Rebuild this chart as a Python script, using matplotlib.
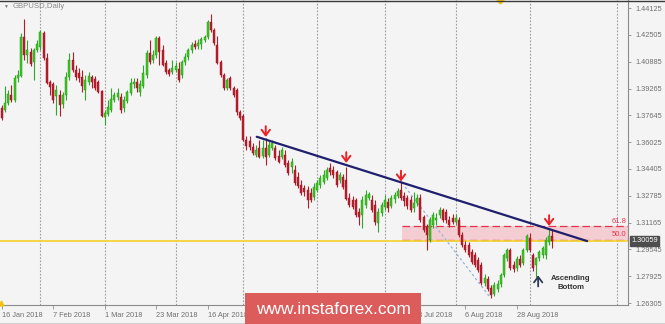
import numpy as np
import matplotlib
matplotlib.use("Agg")
import matplotlib.pyplot as plt
import matplotlib.transforms as mtransforms
from matplotlib.patches import Rectangle
from matplotlib.lines import Line2D

plt.rcParams['font.family'] = ['Liberation Sans', 'DejaVu Sans']

# GBPUSD daily candles, 16 Jan 2018 .. 12 Sep 2018
opens = [1.3809, 1.3797, 1.3839, 1.3887, 1.3857, 1.3990, 1.4002, 1.4238, 1.4129, 1.4147,
         1.4087, 1.4159, 1.4177, 1.4262, 1.4111, 1.3966, 1.3954, 1.3881, 1.3887, 1.3833,
         1.3887, 1.3996, 1.4099, 1.4038, 1.4020, 1.3996, 1.3917, 1.3966, 1.3996, 1.3984,
         1.3966, 1.3911, 1.3754, 1.3772, 1.3797, 1.3857, 1.3875, 1.3875, 1.3809, 1.3851,
         1.3899, 1.3954, 1.3966, 1.3905, 1.3942, 1.4008, 1.4141, 1.4099, 1.4129, 1.4231,
         1.4159, 1.4081, 1.4038, 1.4026, 1.4038, 1.4044, 1.4008, 1.4087, 1.4117, 1.4159,
         1.4195, 1.4183, 1.4195, 1.4219, 1.4238, 1.4328, 1.4280, 1.4189, 1.4087, 1.4008,
         1.3929, 1.3990, 1.3929, 1.3917, 1.3785, 1.3760, 1.3615, 1.3609, 1.3573, 1.3525,
         1.3567, 1.3519, 1.3567, 1.3525, 1.3567, 1.3567, 1.3519, 1.3513, 1.3525, 1.3477,
         1.3452, 1.3434, 1.3392, 1.3344, 1.3326, 1.3313, 1.3295, 1.3271, 1.3313, 1.3344,
         1.3362, 1.3386, 1.3446, 1.3434, 1.3422, 1.3374, 1.3392, 1.3374, 1.3265, 1.3253,
         1.3253, 1.3180, 1.3162, 1.3223, 1.3265, 1.3253, 1.3223, 1.3114, 1.3174, 1.3211,
         1.3241, 1.3217, 1.3259, 1.3277, 1.3313, 1.3277, 1.3265, 1.3253, 1.3205, 1.3235,
         1.3265, 1.3150, 1.3090, 1.3011, 1.3102, 1.3132, 1.3162, 1.3193, 1.3180, 1.3132,
         1.3144, 1.3120, 1.3132, 1.3042, 1.2981, 1.2981, 1.2939, 1.2921, 1.2891, 1.2860,
         1.2752, 1.2776, 1.2722, 1.2685, 1.2716, 1.2746, 1.2800, 1.2903, 1.2951, 1.2860,
         1.2842, 1.2897, 1.2873, 1.2951, 1.3024, 1.2921, 1.2860, 1.2903, 1.2921, 1.2921,
         1.3000, 1.3036]
highs = [1.3827, 1.3942, 1.3917, 1.3948, 1.4008, 1.4038, 1.4262, 1.4346, 1.4219, 1.4171,
         1.4171, 1.4219, 1.4280, 1.4274, 1.4141, 1.3978, 1.3966, 1.3948, 1.3917, 1.3905,
         1.4026, 1.4141, 1.4147, 1.4068, 1.4050, 1.4038, 1.4008, 1.4026, 1.4008, 1.4002,
         1.3978, 1.3917, 1.3797, 1.3857, 1.3929, 1.3905, 1.3929, 1.3899, 1.3881, 1.3917,
         1.3990, 1.3990, 1.3990, 1.3978, 1.4068, 1.4159, 1.4219, 1.4159, 1.4244, 1.4244,
         1.4189, 1.4099, 1.4050, 1.4099, 1.4087, 1.4087, 1.4099, 1.4141, 1.4171, 1.4207,
         1.4219, 1.4225, 1.4238, 1.4250, 1.4340, 1.4376, 1.4292, 1.4244, 1.4099, 1.4020,
         1.3990, 1.4002, 1.3942, 1.3929, 1.3797, 1.3772, 1.3640, 1.3640, 1.3597, 1.3585,
         1.3615, 1.3615, 1.3627, 1.3615, 1.3615, 1.3585, 1.3555, 1.3573, 1.3555, 1.3495,
         1.3507, 1.3464, 1.3422, 1.3374, 1.3344, 1.3338, 1.3326, 1.3356, 1.3374, 1.3404,
         1.3434, 1.3452, 1.3477, 1.3458, 1.3434, 1.3422, 1.3410, 1.3452, 1.3295, 1.3277,
         1.3265, 1.3205, 1.3277, 1.3313, 1.3301, 1.3283, 1.3253, 1.3205, 1.3241, 1.3283,
         1.3265, 1.3283, 1.3301, 1.3326, 1.3362, 1.3301, 1.3283, 1.3277, 1.3301, 1.3289,
         1.3289, 1.3162, 1.3108, 1.3150, 1.3180, 1.3174, 1.3211, 1.3205, 1.3199, 1.3156,
         1.3168, 1.3168, 1.3150, 1.3060, 1.3005, 1.2999, 1.2957, 1.2939, 1.2909, 1.2879,
         1.2806, 1.2794, 1.2740, 1.2758, 1.2770, 1.2812, 1.2933, 1.2963, 1.2963, 1.2885,
         1.2915, 1.2921, 1.2963, 1.3048, 1.3054, 1.2933, 1.2909, 1.2951, 1.2975, 1.3030,
         1.3084, 1.3072]
lows = [1.3736, 1.3785, 1.3827, 1.3845, 1.3845, 1.3966, 1.3996, 1.4099, 1.4081, 1.4062,
        1.3978, 1.4147, 1.4159, 1.4099, 1.3954, 1.3887, 1.3839, 1.3766, 1.3760, 1.3809,
        1.3857, 1.3978, 1.4026, 1.3978, 1.3966, 1.3905, 1.3857, 1.3948, 1.3929, 1.3917,
        1.3899, 1.3754, 1.3706, 1.3760, 1.3785, 1.3845, 1.3857, 1.3779, 1.3785, 1.3839,
        1.3887, 1.3929, 1.3905, 1.3881, 1.3929, 1.3990, 1.4074, 1.4081, 1.4111, 1.4068,
        1.4062, 1.4014, 1.4002, 1.4014, 1.4026, 1.3966, 1.3990, 1.4068, 1.4099, 1.4141,
        1.4165, 1.4165, 1.4165, 1.4207, 1.4225, 1.4268, 1.4189, 1.4074, 1.3996, 1.3917,
        1.3917, 1.3917, 1.3875, 1.3766, 1.3736, 1.3609, 1.3555, 1.3555, 1.3525, 1.3513,
        1.3507, 1.3507, 1.3464, 1.3513, 1.3555, 1.3495, 1.3477, 1.3501, 1.3452, 1.3404,
        1.3416, 1.3344, 1.3326, 1.3283, 1.3277, 1.3205, 1.3241, 1.3253, 1.3301, 1.3326,
        1.3350, 1.3374, 1.3404, 1.3386, 1.3332, 1.3356, 1.3320, 1.3253, 1.3211, 1.3199,
        1.3150, 1.3102, 1.3084, 1.3205, 1.3253, 1.3181, 1.3102, 1.3060, 1.3156, 1.3193,
        1.3181, 1.3205, 1.3235, 1.3265, 1.3253, 1.3217, 1.3199, 1.3181, 1.3181, 1.3217,
        1.3120, 1.3060, 1.2951, 1.2999, 1.3084, 1.3102, 1.3144, 1.3120, 1.3114, 1.3090,
        1.3108, 1.3102, 1.3030, 1.2969, 1.2939, 1.2909, 1.2867, 1.2848, 1.2818, 1.2740,
        1.2734, 1.2703, 1.2661, 1.2673, 1.2697, 1.2728, 1.2788, 1.2885, 1.2830, 1.2818,
        1.2824, 1.2848, 1.2860, 1.2939, 1.2939, 1.2824, 1.2788, 1.2885, 1.2903, 1.2897,
        1.2981, 1.2963]
closes = [1.3748, 1.3839, 1.3893, 1.3857, 1.3990, 1.4008, 1.4238, 1.4129, 1.4159, 1.4074,
          1.4159, 1.4195, 1.4268, 1.4111, 1.3960, 1.3936, 1.3857, 1.3917, 1.3827, 1.3887,
          1.3996, 1.4099, 1.4038, 1.3996, 1.3990, 1.3942, 1.3978, 1.4002, 1.3966, 1.3929,
          1.3905, 1.3760, 1.3779, 1.3815, 1.3863, 1.3887, 1.3899, 1.3797, 1.3857, 1.3905,
          1.3960, 1.3966, 1.3929, 1.3954, 1.4020, 1.4141, 1.4087, 1.4129, 1.4231, 1.4147,
          1.4068, 1.4026, 1.4014, 1.4050, 1.4062, 1.3978, 1.4087, 1.4117, 1.4159, 1.4189,
          1.4177, 1.4201, 1.4225, 1.4238, 1.4328, 1.4280, 1.4201, 1.4081, 1.4008, 1.3929,
          1.3978, 1.3929, 1.3887, 1.3785, 1.3748, 1.3615, 1.3579, 1.3573, 1.3537, 1.3555,
          1.3513, 1.3567, 1.3513, 1.3585, 1.3597, 1.3507, 1.3483, 1.3555, 1.3464, 1.3416,
          1.3483, 1.3356, 1.3338, 1.3295, 1.3301, 1.3253, 1.3253, 1.3332, 1.3356, 1.3386,
          1.3404, 1.3434, 1.3422, 1.3404, 1.3344, 1.3404, 1.3332, 1.3259, 1.3223, 1.3211,
          1.3162, 1.3150, 1.3253, 1.3283, 1.3289, 1.3193, 1.3120, 1.3180, 1.3223, 1.3253,
          1.3205, 1.3265, 1.3283, 1.3307, 1.3265, 1.3247, 1.3217, 1.3193, 1.3235, 1.3265,
          1.3132, 1.3072, 1.3042, 1.3132, 1.3162, 1.3144, 1.3193, 1.3132, 1.3132, 1.3102,
          1.3120, 1.3144, 1.3042, 1.2981, 1.2951, 1.2921, 1.2879, 1.2860, 1.2830, 1.2752,
          1.2782, 1.2716, 1.2679, 1.2740, 1.2746, 1.2800, 1.2921, 1.2951, 1.2842, 1.2836,
          1.2897, 1.2860, 1.2951, 1.3036, 1.2951, 1.2842, 1.2903, 1.2939, 1.2963, 1.3011,
          1.3036, 1.3006]

price_ticks = [1.44125, 1.42505, 1.40885, 1.39265, 1.37645, 1.36025,
               1.34405, 1.32785, 1.31165, 1.29545, 1.27925, 1.26305]
date_bars = [0, 16, 32, 48, 64, 80, 96, 112, 128, 144, 160]
# the May/June labels sit under the watermark and are not visible
date_labels = ['16 Jan 2018', '7 Feb 2018', '1 Mar 2018', '23 Mar 2018', '16 Apr 2018',
               '', '', '', '13 Jul 2018', '6 Aug 2018', '28 Aug 2018']
month_bars = [12, 32, 54, 75, 98, 119, 141, 164, 191]

current_price = 1.30059
fib_618 = 1.3094
fib_500 = 1.3012
fib_start = 124.3
trend_x = [79.2, 181.8]
trend_y = [1.3635, 1.3005]
swing_x = [125.3, 151.6]
swing_y = [1.3332, 1.2667]
arrow_bars = [82, 107, 124, 170]
arrow_tips = [1.3634, 1.3477, 1.3365, 1.3096]

bg = '#f4f4f4'
fig = plt.figure(figsize=(6.65, 3.24), dpi=100, facecolor=bg)
ax = fig.add_axes([0, 19 / 324, 628 / 665, 305 / 324], facecolor=bg)
x_right = 194.5
ax.set_xlim(-0.53, x_right)
ax.set_ylim(1.2619, 1.4461)

# month grid
for m in month_bars:
    ax.axvline(m, color='#9c9c9c', lw=0.8, ls=(0, (1.5, 1.5)), zorder=0)

# fibo zone
ax.add_patch(Rectangle((fib_start, fib_500), x_right - fib_start, fib_618 - fib_500,
                       facecolor='#f3cdd1', edgecolor='none', zorder=1))
for lev in [fib_618, fib_500]:
    ax.hlines(lev, fib_start, x_right, color='#e2334a', lw=0.9, linestyles=(0, (6, 3)), zorder=2)
ax.text(194.0, 1.3121, '61.8', ha='right', va='center', color='#e2334a', fontsize=5.5)
ax.text(194.0, 1.3047, '50.0', ha='right', va='center', color='#e2334a', fontsize=5.5)

ax.axhline(current_price, color='#f4d23a', lw=1.3, zorder=2)

ax.plot(swing_x, swing_y, color='#8fb4dc', lw=0.9, ls=(0, (2, 2)), zorder=2)

# candles
o = np.array(opens)
h = np.array(highs)
l = np.array(lows)
c = np.array(closes)
xs = np.arange(len(c))
up = c >= o
wick_col = np.where(up, '#2ea82a', '#b01c2a')
body_col = np.where(up, '#3ccc1e', '#b81e2d')
edge_col = np.where(up, '#1f8c14', '#981422')
ax.vlines(xs, l, h, colors=wick_col, lw=0.8, zorder=3)
body_h = np.maximum(np.abs(c - o), 0.0003)
ax.bar(xs, body_h, bottom=np.minimum(o, c), width=0.62, color=body_col,
       edgecolor=edge_col, linewidth=0.3, zorder=4)

# trend line
ax.plot(trend_x, trend_y, color='#1f1f6e', lw=1.6, zorder=5, solid_capstyle='round')

# swing high arrows
arrow_style = '->,head_length=0.4,head_width=0.3'
for b, tip in zip(arrow_bars, arrow_tips):
    ax.annotate('', xy=(b, tip), xytext=(b, tip + 0.0065),
                arrowprops=dict(arrowstyle=arrow_style, color='#ec2027', lw=1.4,
                                shrinkA=0, shrinkB=0), zorder=6)

ax.annotate('', xy=(166.6, 1.2798), xytext=(166.6, 1.2731),
            arrowprops=dict(arrowstyle=arrow_style, color='#2d3a56', lw=1.3,
                            shrinkA=0, shrinkB=0), zorder=6)
ax.text(176.8, 1.2752, 'Ascending\nBottom', ha='center', va='center', fontsize=5.6,
        fontweight='bold', color='#333333', linespacing=1.35, zorder=6)

ax.plot(154.8, 1.4461, marker='D', ms=3.5, color='#f4c20d', zorder=6)
ax.plot(-0.3, 1.2632, marker='^', ms=3.5, color='#f4c20d', zorder=6, clip_on=False)

# axes styling
for s in ['left', 'top']:
    ax.spines[s].set_visible(False)
for s in ['right', 'bottom']:
    ax.spines[s].set_color('#8c8c8c')
    ax.spines[s].set_linewidth(0.8)

ax.yaxis.tick_right()
ax.set_yticks(price_ticks)
ax.set_yticklabels(['%.5f' % p for p in price_ticks])
ax.tick_params(axis='y', length=2, width=0.6, colors='#8c8c8c', labelcolor='#707070',
               labelsize=5.3, pad=3)
ax.set_xticks(date_bars)
ax.set_xticklabels(date_labels, ha='left')
ax.tick_params(axis='x', length=3, width=0.6, colors='#8c8c8c', labelcolor='#707070',
               labelsize=5.3, pad=2)

blend = mtransforms.blended_transform_factory(ax.transAxes, ax.transData)
ax.text(1.0048, current_price, '1.30059', transform=blend, ha='left', va='center',
        color='white', fontsize=5.3, clip_on=False,
        bbox=dict(boxstyle='square,pad=0.15', fc='#4d4d4d', ec='#4d4d4d'))

# title
fig.text(3 / 665, 1 - 6 / 324, '▼', fontsize=3.5, color='#777777', va='center')
fig.text(13 / 665, 1 - 6 / 324, 'GBPUSD,Daily', fontsize=5.6, color='#8a8a8a', va='center')

# watermark
fig.patches.append(Rectangle((245 / 665, 0), 176 / 665, 31 / 324, transform=fig.transFigure,
                             facecolor='#dc5c5c', edgecolor='none', zorder=10))
fig.text(333 / 665, 15 / 324, 'www.instaforex.com', color='white', fontsize=12.5,
         ha='center', va='center', zorder=11)

# frame lines
fig.add_artist(Line2D([0, 1], [1 - 0.5 / 324] * 2, transform=fig.transFigure, color='#3a3a3a', lw=1))
fig.add_artist(Line2D([0, 1], [0.5 / 324] * 2, transform=fig.transFigure, color='#3a3a3a', lw=1))

fig.savefig('out.png', dpi=100, facecolor=bg)
